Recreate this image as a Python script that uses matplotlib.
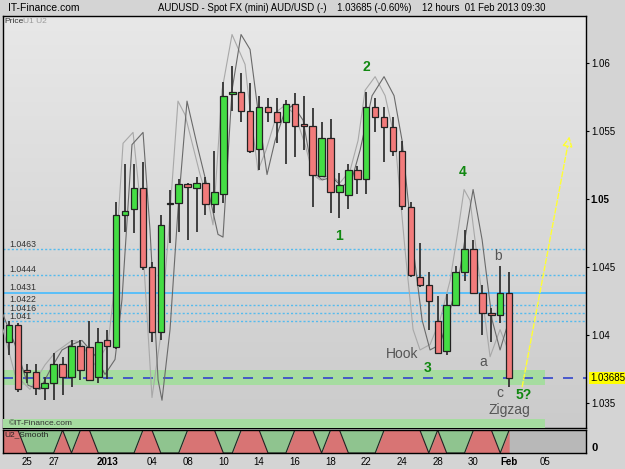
import numpy as np
import matplotlib
matplotlib.use("Agg")
import matplotlib.pyplot as plt
from matplotlib.colors import LinearSegmentedColormap
import matplotlib.transforms as mtransforms

plt.rcParams['font.family'] = ['Liberation Sans', 'DejaVu Sans']

# 12 hour candles, 24 Dec 2012 .. 01 Feb 2013 (index = candle number)
opens = [1.0395, 1.0407, 1.0374, 1.0373, 1.0361, 1.0365, 1.0379, 1.0369, 1.0392, 1.0391,
         1.0369, 1.0396, 1.0391, 1.0488, 1.0493, 1.0508, 1.0450, 1.0402, 1.0496, 1.0497,
         1.0511, 1.0508, 1.0512, 1.0496, 1.0504, 1.0577, 1.0579, 1.0565, 1.0537, 1.0568,
         1.0564, 1.0557, 1.0570, 1.0555, 1.0554, 1.0517, 1.0545, 1.0505, 1.0503, 1.0521,
         1.0515, 1.0568, 1.0560, 1.0553, 1.0535, 1.0494, 1.0443, 1.0437, 1.0410, 1.0388,
         1.0422, 1.0446, 1.0463, 1.0431, 1.0416, 1.0415, 1.0431]
highs = [1.0410, 1.0409, 1.0379, 1.0379, 1.0369, 1.0387, 1.0384, 1.0396, 1.0396, 1.0410,
         1.0405, 1.0404, 1.0498, 1.0526, 1.0526, 1.0527, 1.0454, 1.0488, 1.0507, 1.0515,
         1.0512, 1.0516, 1.0516, 1.0535, 1.0586, 1.0598, 1.0593, 1.0585, 1.0576, 1.0574,
         1.0574, 1.0573, 1.0578, 1.0576, 1.0567, 1.0557, 1.0559, 1.0519, 1.0526, 1.0524,
         1.0579, 1.0574, 1.0568, 1.0560, 1.0543, 1.0498, 1.0468, 1.0446, 1.0429, 1.0430,
         1.0451, 1.0477, 1.0470, 1.0437, 1.0420, 1.0451, 1.0446]
lows = [1.0385, 1.0358, 1.0365, 1.0356, 1.0352, 1.0352, 1.0356, 1.0362, 1.0367, 1.0366,
        1.0365, 1.0368, 1.0390, 1.0476, 1.0475, 1.0448, 1.0395, 1.0396, 1.0468, 1.0476,
        1.0470, 1.0476, 1.0488, 1.0490, 1.0497, 1.0565, 1.0557, 1.0534, 1.0521, 1.0557,
        1.0541, 1.0526, 1.0531, 1.0536, 1.0494, 1.0517, 1.0490, 1.0486, 1.0493, 1.0504,
        1.0504, 1.0549, 1.0527, 1.0532, 1.0492, 1.0443, 1.0435, 1.0404, 1.0386, 1.0385,
        1.0421, 1.0440, 1.0431, 1.0400, 1.0395, 1.0409, 1.0362]
closes = [1.0407, 1.0360, 1.0373, 1.0361, 1.0365, 1.0379, 1.0369, 1.0392, 1.0374, 1.0367,
          1.0395, 1.0392, 1.0488, 1.0491, 1.0508, 1.0450, 1.0402, 1.0481, 1.0497, 1.0511,
          1.0509, 1.0512, 1.0496, 1.0505, 1.0576, 1.0579, 1.0565, 1.0535, 1.0568, 1.0564,
          1.0557, 1.0570, 1.0554, 1.0554, 1.0518, 1.0545, 1.0505, 1.0510, 1.0521, 1.0515,
          1.0568, 1.0560, 1.0553, 1.0535, 1.0495, 1.0444, 1.0437, 1.0425, 1.0387, 1.0422,
          1.0446, 1.0463, 1.0431, 1.0416, 1.0415, 1.0431, 1.03685]

# U1 / U2 overlay lines (candle index, price)
u1_x = [-0.67, 0.67, 2.35, 4.03, 5.15, 7.05, 7.95, 9.63, 11.09, 11.65, 12.77, 13.89, 14.67,
        16.01, 16.91, 17.81, 18.92, 19.71, 21.39, 22.28, 22.84, 23.85, 24.97, 26.43, 26.99,
        27.88, 28.78, 30.12, 30.91, 32.03, 33.15, 34.04, 34.83, 35.95, 37.07, 38.19, 39.08,
        39.87, 40.99, 42.11, 43.23, 44.35, 45.24, 46.02, 47.14, 48.26, 49.38, 50.28, 50.95,
        51.62, 52.74, 53.86, 54.98, 55.88]
u1_y = [1.0404, 1.0371, 1.0360, 1.0378, 1.0387, 1.0396, 1.0395, 1.0378, 1.0393, 1.0426,
        1.0541, 1.0549, 1.0499, 1.0354, 1.0396, 1.0470, 1.0572, 1.0562, 1.0518, 1.0499,
        1.0481, 1.0580, 1.0621, 1.0599, 1.0565, 1.0521, 1.0536, 1.0565, 1.0569, 1.0562,
        1.0540, 1.0518, 1.0514, 1.0518, 1.0512, 1.0521, 1.0543, 1.0580, 1.0590, 1.0576,
        1.0543, 1.0462, 1.0404, 1.0389, 1.0393, 1.0411, 1.0440, 1.0477, 1.0507, 1.0499,
        1.0440, 1.0384, 1.0404, 1.0389]
u2_x = [-0.67, 0.67, 2.13, 3.47, 4.59, 5.94, 7.05, 8.17, 9.63, 10.75, 11.87, 12.65, 13.77,
        15.01, 15.79, 16.69, 17.13, 18.03, 18.92, 19.93, 21.05, 22.28, 23.40, 23.96, 24.97,
        25.98, 26.99, 27.88, 28.89, 29.79, 30.91, 31.80, 32.92, 33.93, 35.05, 36.17, 37.29,
        38.41, 39.31, 40.65, 41.99, 43.11, 44.01, 45.13, 46.25, 47.14, 48.26, 49.38, 50.50,
        51.40, 51.96, 52.97, 54.09, 54.98, 55.66, 56.33]
u2_y = [1.0415, 1.0393, 1.0363, 1.0360, 1.0374, 1.0389, 1.0393, 1.0396, 1.0385, 1.0371,
        1.0382, 1.0426, 1.0540, 1.0549, 1.0477, 1.0367, 1.0352, 1.0404, 1.0492, 1.0572,
        1.0540, 1.0507, 1.0474, 1.0472, 1.0580, 1.0621, 1.0610, 1.0565, 1.0518, 1.0543,
        1.0565, 1.0569, 1.0558, 1.0521, 1.0514, 1.0516, 1.0509, 1.0515, 1.0536, 1.0576,
        1.0590, 1.0576, 1.0543, 1.0470, 1.0411, 1.0389, 1.0393, 1.0418, 1.0448, 1.0485,
        1.0507, 1.0470, 1.0411, 1.0389, 1.0404, 1.0418]

# support / resistance levels
dotted_levels = [1.0463, 1.0444, 1.0422, 1.0416, 1.041]
dotted_labels = ['1.0463', '1.0444', '1.0422', '1.0416', '1.041']
solid_level = 1.0431
last_price = 1.03685
zone_low, zone_high = 1.0363, 1.0374

# U2_Smooth state per candle (1 = red, 0 = green)
u2_smooth = [1, 1, 0, 0, 0, 0, 1, 0, 1, 1, 0, 0, 0, 0, 0, 1, 1, 0, 0, 0,
             1, 1, 1, 1, 0, 0, 1, 1, 1, 0, 0, 0, 1, 1, 1, 0, 1, 1, 0, 0,
             0, 0, 1, 1, 1, 1, 1, 0, 1, 0, 0, 0, 1, 1, 1, 0, 1]

tick_pos = [2, 5, 11, 16, 20, 24, 28, 32, 36, 40, 44, 48, 52, 56, 60]
tick_lab = ['25', '27', '2013', '04', '08', '10', '14', '16', '18', '22', '24', '28', '30', 'Feb', '05']

xmin, xmax = -0.67, 64.6
ymin, ymax = 1.03316, 1.06346

fig = plt.figure(figsize=(6.25, 4.69), dpi=100, facecolor='#d4d4d4')
ax = fig.add_axes([3/625, 41/469, 583/625, 412/469])
ax2 = fig.add_axes([3/625, 16/469, 583/625, 23/469])

# panel background gradient
grad = LinearSegmentedColormap.from_list('bg', ['#e8e8e8', '#cbcbcb'])
ax.imshow(np.linspace(0, 1, 256).reshape(-1, 1), cmap=grad, aspect='auto',
          extent=[xmin, xmax, ymin, ymax], origin='upper', zorder=0)

# green zone and last price line
ax.fill_between([xmin, 60.0], zone_low, zone_high, color='#a6dca0', zorder=1, lw=0)
ax.axhline(last_price, color='#3344cc', lw=1.2, dashes=(6, 6), zorder=2)

for lv, lab in zip(dotted_levels, dotted_labels):
    ax.axhline(lv, color='#55bbee', lw=1, ls=(0, (1.5, 1.5)), zorder=2)
    ax.text(0.0, lv + 0.00005, lab, fontsize=6.3, color='#333333',
            va='bottom', ha='left', zorder=3)
ax.axhline(solid_level, color='#44bbff', lw=1.2, zorder=2)
ax.text(0.0, solid_level + 0.00005, f'{solid_level:.4f}', fontsize=6.3, color='#333333',
        va='bottom', ha='left', zorder=3)

# overlay lines
ax.plot(u1_x, u1_y, color='#a8a8a8', lw=0.8, zorder=3)
ax.plot(u2_x, u2_y, color='#6a6a6a', lw=0.8, zorder=3)

# candles
w = 0.72
for i in range(len(opens)):
    o, h, l, c = opens[i], highs[i], lows[i], closes[i]
    col = '#44dd44' if c >= o else '#f27b7b'
    ax.vlines(i, l, h, color='#333333', lw=1.3, zorder=4)
    bot = min(o, c)
    hgt = max(abs(c - o), 0.00002)
    ax.add_patch(plt.Rectangle((i - w/2, bot), w, hgt, facecolor=col,
                               edgecolor='#222222', lw=0.9, zorder=5))

# copyright strip
ax.fill_between([xmin, 60.0], ymin, ymin + 0.00066, color='#a6dca0', zorder=6, lw=0)
ax.text(0.0, ymin + 0.00033, '\u00a9IT-Finance.com', fontsize=6, color='#333333',
        va='center', ha='left', zorder=7)

# wave annotations
for lab, xi, yi in [('2', 40.0, 1.0597), ('1', 37.0, 1.0473), ('4', 50.8, 1.0520),
                    ('3', 46.9, 1.0376), ('5?', 57.6, 1.0356)]:
    ax.text(xi, yi, lab, color='#118811', fontsize=10, fontweight='bold',
            ha='center', va='center', zorder=7)
for lab, xi, yi in [('Hook', 44.0, 1.0386), ('a', 53.1, 1.0380), ('b', 54.8, 1.0458),
                    ('c', 55.0, 1.0357), ('Zigzag', 56.0, 1.03445)]:
    ax.text(xi, yi, lab, color='#555555', fontsize=10, ha='center', va='center', zorder=7)

# projection arrow
ax.annotate('', xy=(62.8, 1.0548), xytext=(57.4, 1.0360),
            arrowprops=dict(arrowstyle='-|>', color='#ffff33', lw=1, ls='--',
                            mutation_scale=15, fc='#e4e4d0'), zorder=7)

ax.set_xlim(xmin, xmax)
ax.set_ylim(ymin, ymax)
ax.set_xticks([])
ax.yaxis.tick_right()
yt = [1.035, 1.04, 1.045, 1.05, 1.055, 1.06]
ax.set_yticks(yt, ['1.035', '1.04', '1.045', '1.05', '1.055', '1.06'])
ax.tick_params(axis='y', labelsize=7, length=2, pad=1.5, colors='black')
ax.get_yticklabels()[3].set_fontweight('bold')
for s in ax.spines.values():
    s.set_color('black')
    s.set_linewidth(1)

ax.text(1.007, last_price, '1.03685',
        transform=mtransforms.blended_transform_factory(ax.transAxes, ax.transData),
        fontsize=7, va='center', ha='left',
        bbox=dict(boxstyle='square,pad=0.1', fc='#ffff00', ec='none'))
ax.text(0.003, 0.995, 'Price', transform=ax.transAxes, fontsize=6, color='#333333', va='top')
ax.text(0.035, 0.995, 'U1 U2', transform=ax.transAxes, fontsize=6, color='#999999', va='top')

# title line
fig.text(8/625, 1 - 8/469, 'IT-Finance.com', fontsize=7.5, va='center', ha='left')
fig.text(158/625, 1 - 8/469,
         'AUDUSD - Spot FX (mini) AUD/USD (-)    1.03685 (-0.60%)    12 hours  01 Feb 2013 09:30',
         fontsize=6.9, va='center', ha='left')

# indicator panel
ix = np.arange(len(u2_smooth))
xs = np.concatenate([[xmin], ix])
vs = np.concatenate([[u2_smooth[0]], u2_smooth])
ax2.fill_between([xmin, xmax], 0, 1, color='#b8b8b8', lw=0)
ax2.fill_between(xs, 0, vs, color='#d87474', lw=0)
ax2.fill_between(xs, vs, 1, color='#8fc48f', lw=0)
ax2.plot(xs, vs, color='#222222', lw=0.8)
ax2.set_xlim(xmin, xmax)
ax2.set_ylim(0, 1)
ax2.set_yticks([])
ax2.set_xticks(tick_pos, tick_lab)
ax2.tick_params(axis='x', length=0, labelsize=7, pad=3)
for t in ax2.get_xticklabels():
    if t.get_text() in ('2013', 'Feb'):
        t.set_fontweight('bold')
for s in ax2.spines.values():
    s.set_color('black')
    s.set_linewidth(1)
ax2.text(0.003, 0.95, 'U2_Smooth', transform=ax2.transAxes, fontsize=6, va='top', color='#222222')
ax2.text(1.01, 0.2, '0', transform=ax2.transAxes, fontsize=8, fontweight='bold', va='center')

fig.savefig('out.png', dpi=100, facecolor=fig.get_facecolor())
